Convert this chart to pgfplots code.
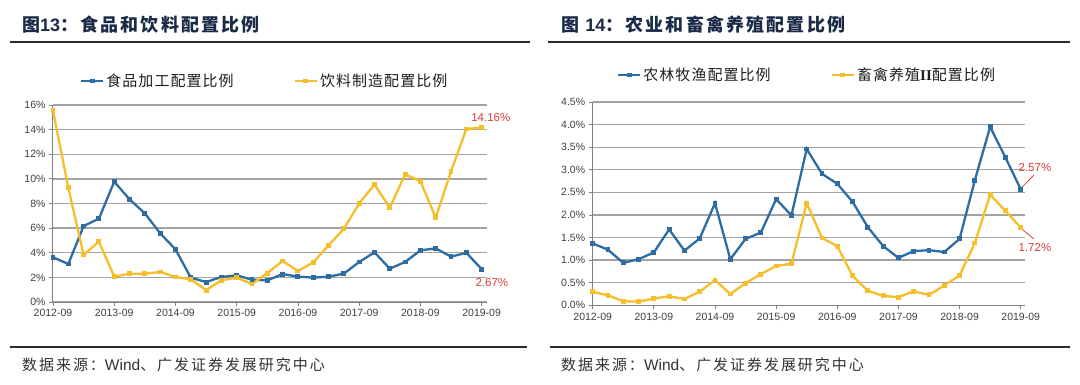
\documentclass[border=0pt]{standalone}
\usepackage{fontspec}
\setmainfont{Liberation Sans}
\newfontfamily\serifb{Liberation Serif}
\newfontfamily\cjk{Noto Sans CJK SC}
\newfontfamily\cjkt[LetterSpace=12]{Noto Sans CJK SC}
\newfontfamily\cjkl[LetterSpace=7]{Noto Sans CJK SC}
\newfontfamily\cjks[LetterSpace=13]{Noto Sans CJK SC}
\usepackage{pgfplots}
\usepackage{pgfplotstable}
\pgfplotsset{compat=1.18}

\definecolor{cblue}{HTML}{2E6CA4}
\definecolor{cyel}{HTML}{F4BF2A}
\definecolor{cred}{HTML}{E03C3C}
\definecolor{cgrid}{HTML}{A3A3A3}
\definecolor{caxis}{HTML}{808080}
\definecolor{ctitle}{HTML}{1B2A47}
\definecolor{ctick}{HTML}{404040}
\definecolor{crule}{HTML}{2B2B2B}

\pgfplotstableread{
x food bev
0 3.63 15.53
1 3.09 9.28
2 6.17 3.84
3 6.77 4.90
4 9.77 2.06
5 8.34 2.30
6 7.20 2.30
7 5.58 2.44
8 4.28 2.03
9 1.98 1.84
10 1.62 0.97
11 2.03 1.76
12 2.17 1.98
13 1.81 1.46
14 1.76 2.35
15 2.27 3.33
16 2.06 2.52
17 1.98 3.22
18 2.06 4.60
19 2.30 5.95
20 3.25 8.01
21 4.03 9.55
22 2.71 7.66
23 3.25 10.37
24 4.19 9.82
25 4.36 6.85
26 3.68 10.61
27 4.00 14.05
28 2.67 14.16
}\leftdata

\pgfplotstableread{
x agri live
0 1.37 0.30
1 1.23 0.22
2 0.94 0.09
3 1.02 0.08
4 1.17 0.15
5 1.68 0.20
6 1.21 0.14
7 1.48 0.30
8 2.26 0.56
9 1.02 0.25
10 1.47 0.49
11 1.61 0.69
12 2.35 0.87
13 1.99 0.92
14 3.46 2.26
15 2.91 1.49
16 2.69 1.31
17 2.29 0.65
18 1.73 0.32
19 1.31 0.21
20 1.05 0.18
21 1.20 0.31
22 1.22 0.23
23 1.18 0.44
24 1.47 0.66
25 2.77 1.38
26 3.95 2.45
27 3.27 2.09
28 2.57 1.72
}\rightdata

\pgfplotsset{
  panel/.style={
    scale only axis,
    /pgf/number format/assume math mode=true,
    axis x line*=bottom,
    axis y line*=left,
    axis line style={caxis, line width=1pt},
    xmin=0,
    xtick={0,4,8,12,16,20,24,28},
    xticklabels={2012-09,2013-09,2014-09,2015-09,2016-09,2017-09,2018-09,2019-09},
    ymin=0,
    ymajorgrids,
    grid style={cgrid, line width=1.3pt},
    tick align=outside,
    major tick length=4pt,
    tick style={caxis, line width=0.8pt},
    ticklabel style={font=\fontsize{10.5}{12}\selectfont, text=ctick},
    clip=false,
    legend columns=2,
    legend cell align=left,
    legend style={draw=none, fill=none, inner sep=0pt,
      font=\cjkl\fontsize{15}{18}\selectfont, text=black!88,
      /tikz/every even column/.append style={column sep=58pt}},
    legend image code/.code={\draw[mark repeat=2,mark phase=2,##1] plot coordinates {(0pt,0pt) (11pt,0pt) (22pt,0pt)};},
  },
  ser/.style={line width=2.3pt, mark=square*, mark size=1.3pt, mark options={solid}, color=#1},
}

\begin{document}
\begin{tikzpicture}
\path[fill=white] (0pt,0pt) rectangle (1080pt,-385pt);
\useasboundingbox (0pt,0pt) rectangle (1080pt,-385pt);

% titles and rules
\node[anchor=west, inner sep=0pt, text=ctitle] at (22pt,-25pt)
  {\cjkt\bfseries\fontsize{18}{20}\selectfont 图\rmfamily\bfseries\fontsize{18}{20}\selectfont 13\cjkt\bfseries ：食品和饮料配置比例};
\draw[crule, line width=2pt] (10pt,-42pt) -- (530pt,-42pt);
\node[anchor=west, inner sep=0pt, text=ctitle] at (561pt,-25pt)
  {\cjkt\bfseries\fontsize{18}{20}\selectfont 图 \rmfamily\bfseries\fontsize{18}{20}\selectfont 14\cjkt\bfseries ：农业和畜禽养殖配置比例};
\draw[crule, line width=2pt] (548pt,-42pt) -- (1070pt,-42pt);

\draw[crule, line width=2pt] (10pt,-347pt) -- (527pt,-347pt);
\draw[crule, line width=2pt] (550pt,-347pt) -- (1070pt,-347pt);
\node[anchor=west, inner sep=0pt, text=black!80] at (22pt,-365pt)
  {\cjks\fontsize{15}{18}\selectfont 数据来源：\rmfamily\fontsize{15.5}{18}\selectfont Wind\cjks\fontsize{15}{18}\selectfont 、广发证券发展研究中心};
\node[anchor=west, inner sep=0pt, text=black!80] at (561pt,-365pt)
  {\cjks\fontsize{15}{18}\selectfont 数据来源：\rmfamily\fontsize{15.5}{18}\selectfont Wind\cjks\fontsize{15}{18}\selectfont 、广发证券发展研究中心};

% left panel
\begin{axis}[panel,
  at={(53pt,-302pt)}, anchor=origin,
  width=434pt, height=197pt,
  xmax=28.35, ymax=16,
  ytick={0,2,4,6,8,10,12,14,16},
  yticklabel={\pgfmathprintnumber{\tick}\%},
  legend style={at={(0.062,1.122)}, anchor=west},
]
\addplot[ser=cblue] table[x=x, y=food] {\leftdata};
\addlegendentry{食品加工配置比例}
\addplot[ser=cyel] table[x=x, y=bev] {\leftdata};
\addlegendentry{饮料制造配置比例}
\node[text=cred, font=\fontsize{11.5}{13}\selectfont] at (axis cs:28.6,14.95) {14.16\%};
\node[text=cred, font=\fontsize{11.5}{13}\selectfont] at (axis cs:28.67,1.54) {2.67\%};
\end{axis}

% right panel
\begin{axis}[panel,
  at={(592.7pt,-305.3pt)}, anchor=origin,
  width=432.3pt, height=203.3pt,
  xmax=28.28, ymax=4.5,
  ytick={0,0.5,1,1.5,2,2.5,3,3.5,4,4.5},
  yticklabel={\pgfmathprintnumber[fixed,fixed zerofill,precision=1]{\tick}\%},
  legend style={at={(0.056,1.133)}, anchor=west},
]
\addplot[ser=cblue] table[x=x, y=agri] {\rightdata};
\addlegendentry{农林牧渔配置比例}
\addplot[ser=cyel] table[x=x, y=live] {\rightdata};
\addlegendentry{畜禽养殖{\serifb\bfseries II}配置比例}
\draw[cred, line width=0.8pt] (axis cs:28.1,2.62) -- (axis cs:28.85,2.88);
\draw[cred, line width=0.8pt] (axis cs:28.1,1.68) -- (axis cs:28.85,1.47);
\node[text=cred, font=\fontsize{11.5}{13}\selectfont] at (axis cs:28.93,3.06) {2.57\%};
\node[text=cred, font=\fontsize{11.5}{13}\selectfont] at (axis cs:28.93,1.27) {1.72\%};
\end{axis}
\end{tikzpicture}
\end{document}
